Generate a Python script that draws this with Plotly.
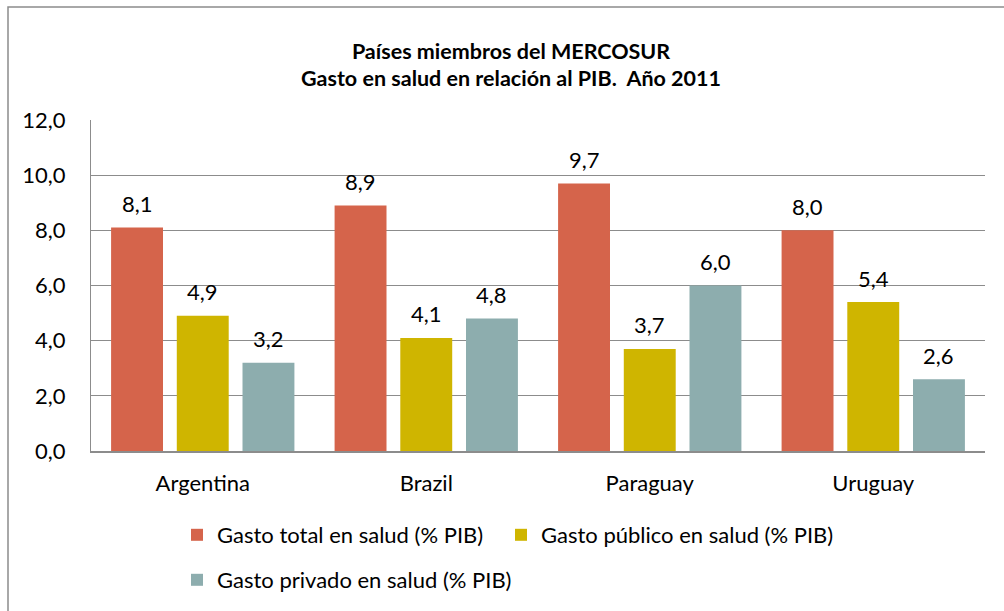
import plotly.graph_objects as go

categories = ["Argentina", "Brazil", "Paraguay", "Uruguay"]
gasto_total = [8.1, 8.9, 9.7, 8.0]
gasto_publico = [4.9, 4.1, 3.7, 5.4]
gasto_privado = [3.2, 4.8, 6.0, 2.6]
series_names = ["Gasto total en salud (% PIB)", "Gasto público en salud (% PIB)", "Gasto privado en salud (% PIB)"]
colors = ["#D5644B", "#CFB500", "#8DADAE"]
y_ticks = [0, 2, 4, 6, 8, 10, 12]

W, H = 1004, 611
L, R, T, B = 91, 1004 - 985, 120, 611 - 451
pw, ph = W - L - R, H - T - B

def px_x(p):
    return (p - L) / pw

def px_y(p):
    return (H - B - p) / ph

FONT = "Lato, Carlito, Calibri, sans-serif"
FS = 22

fig = go.Figure()
series = [gasto_total, gasto_publico, gasto_privado]
legends = ["legend", "legend3", "legend2"]
for name, vals, col, lg in zip(series_names, series, colors, legends):
    fig.add_trace(go.Bar(x=categories, y=vals, name=name, marker=dict(color=col, line=dict(width=0)),
                         legend=lg, hoverinfo="skip"))

slot = 65.7
for i, vals in enumerate(series):
    for c, v in zip(categories, vals):
        fig.add_annotation(x=c, y=v, xref="x", yref="y", text=f"{v:.1f}".replace(".", ","),
                           showarrow=False, xshift=(i - 1) * slot, yshift=24, yanchor="middle",
                           font=dict(family=FONT, size=FS, color="#000000"))

leg_common = dict(orientation="h", xanchor="left", yanchor="middle",
                  font=dict(family=FONT, size=FS), itemwidth=30, bgcolor="rgba(0,0,0,0)")

fig.update_layout(
    width=W, height=H,
    margin=dict(l=L, r=R, t=T, b=B, autoexpand=False),
    paper_bgcolor="white", plot_bgcolor="white",
    barmode="group", bargap=0.118, bargroupgap=0.21,
    separators=",.",
    font=dict(family=FONT, size=FS, color="#000000"),
    title=dict(text="<b>Países miembros del MERCOSUR<br>Gasto en salud en relación al PIB.  Año 2011</b>",
               x=511 / W, xanchor="center", y=1 - 58.5 / H, yanchor="middle",
               font=dict(family=FONT, size=21.5, color="#000000")),
    xaxis=dict(showgrid=False, showline=True, linecolor="#8C8C8C", linewidth=1.5, ticks="",
               ticklabelstandoff=12, tickfont=dict(family=FONT, size=FS), fixedrange=True),
    yaxis=dict(range=[0, 12], tickvals=y_ticks, tickformat=".1f", showgrid=True, gridcolor="#8C8C8C",
               gridwidth=1, showline=True, linecolor="#8C8C8C", linewidth=1, ticks="", zeroline=False,
               ticklabelstandoff=20, tickfont=dict(family=FONT, size=FS), fixedrange=True),
    legend=dict(x=px_x(177), y=px_y(535), **leg_common),
    legend3=dict(x=px_x(501), y=px_y(535), **leg_common),
    legend2=dict(x=px_x(177), y=px_y(580), **leg_common),
    showlegend=True,
)

fig.add_shape(type="rect", xref="paper", yref="paper",
              x0=px_x(8), x1=px_x(1015), y0=px_y(620), y1=px_y(7),
              line=dict(color="#8C8C8C", width=1.5), fillcolor="rgba(0,0,0,0)", layer="below")

fig.write_html("out.html", config={"displayModeBar": False},
               post_script="document.body.style.margin='0';")
